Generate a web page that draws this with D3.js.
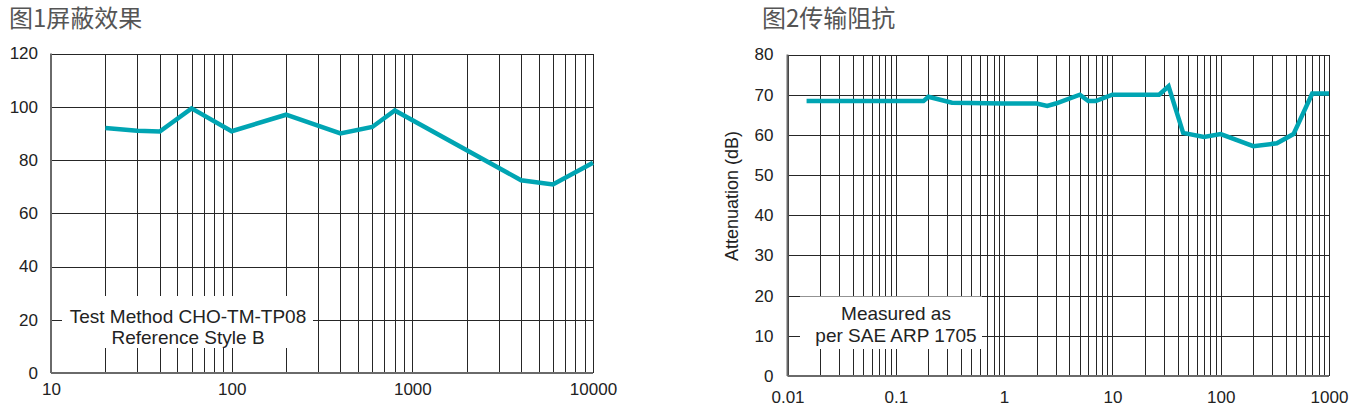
<!DOCTYPE html>
<html>
<head>
<meta charset="utf-8">
<script src="https://cdn.jsdelivr.net/npm/d3@7"></script>
<style>
  body { margin: 0; background: #fff; }
  svg { display: block; }
  .tick text { font-family: "Liberation Sans", Arial, sans-serif; fill: #222; }
  .title { font-family: "Noto Sans CJK SC", sans-serif; fill: #555; }
  .note { font-family: "Liberation Sans", Arial, sans-serif; fill: #222; }
</style>
</head>
<body>
<div id="chart"></div>
<script>
var width = 1357,
    height = 414;

// fig 1 - shielding effectiveness
var shieldFreq = [20, 30, 40, 60, 100, 200, 400, 600, 800, 4000, 6000, 10000];
var shieldDb   = [92, 91, 90.7, 99.4, 90.8, 97, 90, 92.4, 98.6, 72.4, 70.8, 79];
var shieldYTicks = [0, 20, 40, 60, 80, 100, 120];
var shieldXTicks = [10, 100, 1000, 10000];

// fig 2 - transfer impedance
var impFreq = [0.015, 0.18, 0.2, 0.33, 1, 2, 2.5, 3, 5, 6, 7, 10, 27, 33, 45, 70, 100, 200, 330, 470, 700, 1000];
var impDb   = [68.4, 68.4, 69.5, 68.0, 67.8, 67.8, 67.2, 67.8, 70, 68.4, 68.4, 70, 70, 72.1, 60.5, 59.5, 60.2, 57.2, 57.9, 60.2, 70.3, 70.3];
var impYTicks = [0, 10, 20, 30, 40, 50, 60, 70, 80];
var impXTicks = [0.01, 0.1, 1, 10, 100, 1000];

var teal = "#00a5b3";

var svg = d3.select("#chart").append("svg")
    .attr("width", width)
    .attr("height", height);

var drawPanel = function(p){
  var x = d3.scaleLog().domain(p.xDomain).range([p.left, p.right]);
  var y = d3.scaleLinear().domain(p.yDomain).range([p.bottom, p.top]);
  var g = svg.append("g");

  // vertical grid, 1..9 per decade
  g.append("g")
      .attr("transform", "translate(0," + p.bottom + ")")
      .call(d3.axisBottom(x).tickValues(x.ticks()).tickSize(-(p.bottom - p.top)).tickFormat(""))
      .call(function(s){ s.select(".domain").remove(); })
      .selectAll("line").attr("stroke", "#262626").attr("shape-rendering", "crispEdges");

  // horizontal grid
  g.append("g")
      .attr("transform", "translate(" + p.left + ",0)")
      .call(d3.axisLeft(y).tickValues(p.yTicks).tickSize(-(p.right - p.left)).tickFormat(""))
      .call(function(s){ s.select(".domain").remove(); })
      .selectAll("line").attr("stroke", "#262626").attr("shape-rendering", "crispEdges");

  // note box covering the grid
  g.append("rect")
      .attr("x", p.box[0]).attr("y", p.box[1])
      .attr("width", p.box[2]).attr("height", p.box[3])
      .attr("fill", "#fff");
  g.selectAll(".note").data(p.note).enter().append("text")
      .attr("class", "note")
      .attr("x", p.noteX)
      .attr("y", function(d, i){ return p.noteY + i * p.noteGap; })
      .attr("text-anchor", "middle")
      .attr("font-size", 19)
      .text(function(d){ return d; });

  // frame lines (left + bottom)
  g.append("line").attr("x1", p.left).attr("x2", p.left).attr("y1", p.top).attr("y2", p.bottom)
      .attr("stroke", "#6a6a6a").attr("stroke-width", 2);
  g.append("line").attr("x1", p.left).attr("x2", p.right).attr("y1", p.bottom).attr("y2", p.bottom)
      .attr("stroke", "#6a6a6a").attr("stroke-width", 2);

  // tick labels
  var xa = g.append("g")
      .attr("transform", "translate(0," + p.bottom + ")")
      .call(d3.axisBottom(x).tickValues(p.xTicks).tickSize(0).tickPadding(p.xPad).tickFormat(function(d){ return String(+d.toPrecision(6)); }));
  xa.select(".domain").remove();
  xa.selectAll("text").attr("font-size", 17);

  var ya = g.append("g")
      .attr("transform", "translate(" + p.left + ",0)")
      .call(d3.axisLeft(y).tickValues(p.yTicks).tickSize(0).tickPadding(p.yPad));
  ya.select(".domain").remove();
  ya.selectAll("text").attr("font-size", 17);

  // data line
  var line = d3.line()
      .x(function(d){ return x(d[0]); })
      .y(function(d){ return y(d[1]); });
  g.append("path")
      .datum(d3.zip(p.freq, p.db))
      .attr("d", line)
      .attr("fill", "none")
      .attr("stroke", teal)
      .attr("stroke-width", 4.5)
      .attr("stroke-linejoin", "miter");

  g.append("text")
      .attr("class", "title")
      .attr("x", p.titleX).attr("y", 27)
      .attr("font-size", 24)
      .text(p.title);
};

drawPanel({
  title: "图1屏蔽效果", titleX: 9,
  left: 51, right: 593, top: 53.5, bottom: 373,
  xDomain: [10, 10000], yDomain: [0, 120],
  xTicks: shieldXTicks, yTicks: shieldYTicks, xPad: 10, yPad: 13,
  freq: shieldFreq, db: shieldDb,
  box: [62, 296, 251, 52],
  note: ["Test Method CHO-TM-TP08", "Reference Style B"], noteX: 188, noteY: 322.5, noteGap: 21
});

drawPanel({
  title: "图2传输阻抗", titleX: 762,
  left: 787.5, right: 1329, top: 54.5, bottom: 376,
  xDomain: [0.01, 1000], yDomain: [0, 80],
  xTicks: impXTicks, yTicks: impYTicks, xPad: 15, yPad: 14,
  freq: impFreq, db: impDb,
  box: [800, 296.5, 182, 52.5],
  note: ["Measured as", "per SAE ARP 1705"], noteX: 896, noteY: 319.5, noteGap: 22
});

svg.append("text")
    .attr("class", "note")
    .attr("transform", "translate(738,196) rotate(-90)")
    .attr("text-anchor", "middle")
    .attr("font-size", 18)
    .text("Attenuation (dB)");
</script>
</body>
</html>
